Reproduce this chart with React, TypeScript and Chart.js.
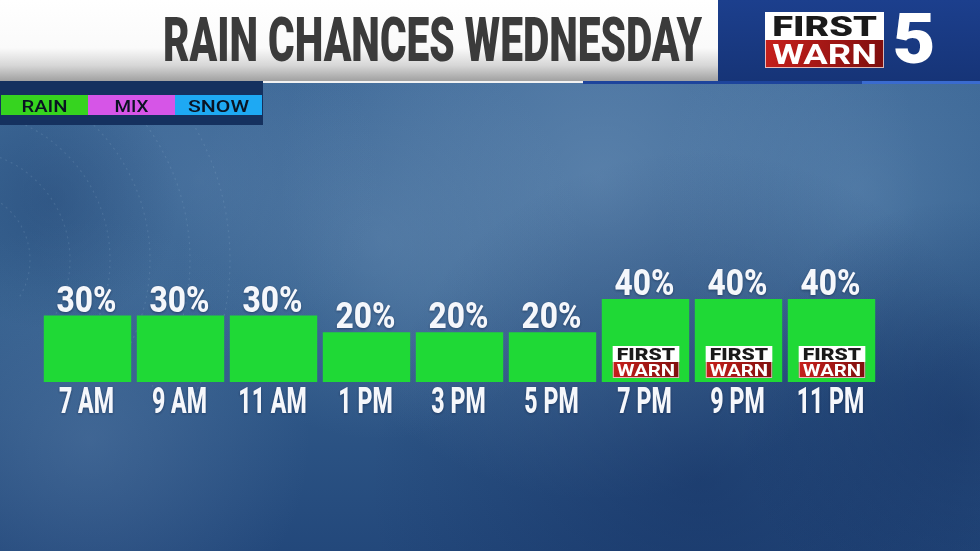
import { useEffect, useRef } from "react";
import { Chart, registerables } from "chart.js";
Chart.register(...registerables);

const titleText = "RAIN CHANCES WEDNESDAY";
const hours = ["7 AM", "9 AM", "11 AM", "1 PM", "3 PM", "5 PM", "7 PM", "9 PM", "11 PM"];
const rainChance = [30, 30, 30, 20, 20, 20, 40, 40, 40];
const firstWarnFlag = [false, false, false, false, false, false, true, true, true];
const legendLabels = ["RAIN", "MIX", "SNOW"];
const legendColors = ["#36d41f", "#d655e7", "#1ea9f3"];

const FAMILY = "Roboto, 'DejaVu Sans', sans-serif";
const CAP = 0.711;

function textScale(ctx: CanvasRenderingContext2D, sample: string, capH: number, targetW: number, weight = "700") {
  const size = capH / CAP;
  ctx.font = `${weight} ${size}px ${FAMILY}`;
  const w = ctx.measureText(sample).width;
  return targetW / w;
}

function drawText(
  ctx: CanvasRenderingContext2D,
  text: string,
  x: number,
  baseline: number,
  capH: number,
  sx: number,
  align: "left" | "center" | "right",
  color: string | CanvasGradient,
  weight = "700"
) {
  const size = capH / CAP;
  ctx.save();
  ctx.font = `${weight} ${size}px ${FAMILY}`;
  ctx.textAlign = "left";
  ctx.textBaseline = "alphabetic";
  const w = ctx.measureText(text).width * sx;
  const x0 = align === "center" ? x - w / 2 : align === "right" ? x - w : x;
  ctx.translate(x0, baseline);
  ctx.scale(sx, 1);
  ctx.fillStyle = color;
  ctx.fillText(text, 0, 0);
  ctx.restore();
}

function blob(ctx: CanvasRenderingContext2D, x: number, y: number, r: number, c: string) {
  const g = ctx.createRadialGradient(x, y, 0, x, y, r);
  g.addColorStop(0, c);
  g.addColorStop(1, c.replace(/[\d.]+\)$/, "0)"));
  ctx.fillStyle = g;
  ctx.fillRect(x - r, y - r, r * 2, r * 2);
}

function drawBackground(ctx: CanvasRenderingContext2D, W: number, H: number) {
  const g = ctx.createLinearGradient(0, 80, 0, H);
  g.addColorStop(0, "#3d6897");
  g.addColorStop(0.45, "#36618f");
  g.addColorStop(1, "#23487b");
  ctx.fillStyle = g;
  ctx.fillRect(0, 0, W, H);
  blob(ctx, 600, 180, 320, "rgba(125,160,196,0.45)");
  blob(ctx, 380, 240, 200, "rgba(120,155,192,0.3)");
  blob(ctx, 860, 190, 200, "rgba(110,150,190,0.35)");
  blob(ctx, 200, 180, 180, "rgba(110,145,185,0.25)");
  blob(ctx, 90, 440, 220, "rgba(110,145,185,0.3)");
  blob(ctx, 700, 480, 330, "rgba(16,42,92,0.45)");
  blob(ctx, 960, 420, 220, "rgba(16,42,92,0.45)");
  blob(ctx, 50, 200, 130, "rgba(30,62,108,0.35)");
  // faint web texture on the left
  ctx.save();
  ctx.strokeStyle = "rgba(200,220,240,0.12)";
  ctx.lineWidth = 1.2;
  ctx.setLineDash([2, 4]);
  for (let i = 0; i < 6; i++) {
    ctx.beginPath();
    ctx.arc(-40, 260, 70 + i * 40, -1.2, 0.6);
    ctx.stroke();
  }
  ctx.restore();
}

function drawLogo(ctx: CanvasRenderingContext2D, x: number, y: number, w: number, h: number) {
  const half = h / 2;
  ctx.save();
  ctx.fillStyle = "#ffffff";
  ctx.fillRect(x, y, w, half);
  const rg = ctx.createLinearGradient(x, y + half, x + w, y + h);
  rg.addColorStop(0, "#c8201c");
  rg.addColorStop(1, "#7d0e0e");
  ctx.fillStyle = rg;
  ctx.fillRect(x, y + half, w, h - half);
  ctx.strokeStyle = "rgba(255,255,255,0.7)";
  ctx.lineWidth = 1;
  ctx.strokeRect(x + 0.5, y + 0.5, w - 1, h - 1);
  const cap = half * 0.72;
  const s1 = textScale(ctx, "FIRST", cap, w * 0.88, "900");
  drawText(ctx, "FIRST", x + w / 2, y + half - (half - cap) / 2, cap, s1, "center", "#1a1a1a", "900");
  const s2 = textScale(ctx, "WARN", cap, w * 0.88, "700");
  drawText(ctx, "WARN", x + w / 2, y + h - (half - cap) / 2, cap, s2, "center", "#ffffff", "700");
  ctx.restore();
}

function drawHeader(ctx: CanvasRenderingContext2D, W: number) {
  const hg = ctx.createLinearGradient(0, 0, 0, 80);
  hg.addColorStop(0, "#ffffff");
  hg.addColorStop(0.6, "#fafafa");
  hg.addColorStop(0.82, "#d6d6d6");
  hg.addColorStop(1, "#a4a4a4");
  ctx.fillStyle = hg;
  ctx.fillRect(0, 0, 718, 81);
  const bg = ctx.createLinearGradient(0, 0, 0, 82);
  bg.addColorStop(0, "#1c3f8d");
  bg.addColorStop(1, "#163477");
  ctx.fillStyle = bg;
  ctx.fillRect(718, 0, W - 718, 81);
  // strip under header
  ctx.fillStyle = "#f2f2f2";
  ctx.fillRect(263, 81, 320, 2);
  ctx.fillStyle = "#1d449c";
  ctx.fillRect(583, 81, 279, 3);
  ctx.fillStyle = "#3a6bcf";
  ctx.fillRect(862, 81, W - 862, 3);
  // title
  const ts = textScale(ctx, titleText, 43, 539, "900");
  drawText(ctx, titleText, 702, 61, 43, ts, "right", "#3b3b3b", "900");
  // big logo
  drawLogo(ctx, 765, 12, 119, 56);
  const fg = ctx.createLinearGradient(0, 13, 0, 63);
  fg.addColorStop(0, "#ffffff");
  fg.addColorStop(1, "#c9d0dc");
  const s5 = textScale(ctx, "5", 50, 43, "900");
  drawText(ctx, "5", 914, 63, 50, s5, "center", fg, "900");
}

function drawLegend(ctx: CanvasRenderingContext2D) {
  ctx.fillStyle = "#15315f";
  ctx.fillRect(0, 81, 263, 44);
  const xs = [1, 88, 175, 262];
  const widths = [46, 34, 61];
  legendLabels.forEach((lab, i) => {
    ctx.fillStyle = legendColors[i];
    ctx.fillRect(xs[i], 95, xs[i + 1] - xs[i], 20);
    const s = textScale(ctx, lab, 12, widths[i], "500");
    drawText(ctx, lab, (xs[i] + xs[i + 1]) / 2, 112.3, 12, s, "center", "#0a1322", "500");
  });
}

const artPlugin = {
  id: "art",
  beforeDraw(chart: any) {
    drawBackground(chart.ctx, chart.width, chart.height);
  },
  afterDatasetsDraw(chart: any) {
    const ctx: CanvasRenderingContext2D = chart.ctx;
    const meta = chart.getDatasetMeta(0);
    const pctScale = textScale(ctx, "30%", 26, 60, "800");
    const hourScale = textScale(ctx, "7 AM", 26, 55, "800");
    ctx.save();
    ctx.shadowColor = "rgba(5,20,50,0.45)";
    ctx.shadowBlur = 3;
    ctx.shadowOffsetY = 1;
    meta.data.forEach((bar: any, i: number) => {
      drawText(ctx, `${rainChance[i]}%`, bar.x - 1, bar.y - 4, 26, pctScale, "center", "#f5f7fb", "800");
      drawText(ctx, hours[i], bar.x - 1, chart.chartArea.bottom + 31, 26, hourScale, "center", "#f5f7fb", "800");
    });
    ctx.restore();
    meta.data.forEach((bar: any, i: number) => {
      if (firstWarnFlag[i]) {
        const left = bar.x - bar.width / 2;
        drawLogo(ctx, left + 11, bar.base - 36, bar.width - 21, 32);
      }
    });
  },
  afterDraw(chart: any) {
    drawHeader(chart.ctx, chart.width);
    drawLegend(chart.ctx);
  },
};

export default function App() {
  const ref = useRef<HTMLCanvasElement>(null);
  useEffect(() => {
    if (!ref.current) return;
    const chart = new Chart(ref.current, {
      type: "bar",
      data: {
        labels: hours,
        datasets: [
          {
            data: rainChance,
            backgroundColor: "#1fd936",
            borderWidth: 0,
            base: -10,
            barPercentage: 0.94,
            categoryPercentage: 1,
          } as any,
        ],
      },
      options: {
        animation: false,
        responsive: false,
        devicePixelRatio: 1,
        layout: { padding: { left: 41, right: 102, top: 199.4, bottom: 169 } },
        scales: {
          x: { display: false, offset: true },
          y: { display: false, min: -10, max: 100 },
        },
        plugins: { legend: { display: false }, tooltip: { enabled: false } },
      },
      plugins: [artPlugin],
    });
    if ((document as any).fonts) {
      Promise.all([
        document.fonts.load(`700 40px Roboto`),
        document.fonts.load(`800 40px Roboto`),
        document.fonts.load(`900 40px Roboto`),
        document.fonts.load(`500 16px Roboto`),
      ]).then(() => chart.draw()).catch(() => {});
    }
    return () => chart.destroy();
  }, []);
  return (
    <div style={{ position: "fixed", left: 0, top: 0, width: 980, height: 551 }}>
      <canvas ref={ref} width={980} height={551} style={{ display: "block" }} />
    </div>
  );
}
